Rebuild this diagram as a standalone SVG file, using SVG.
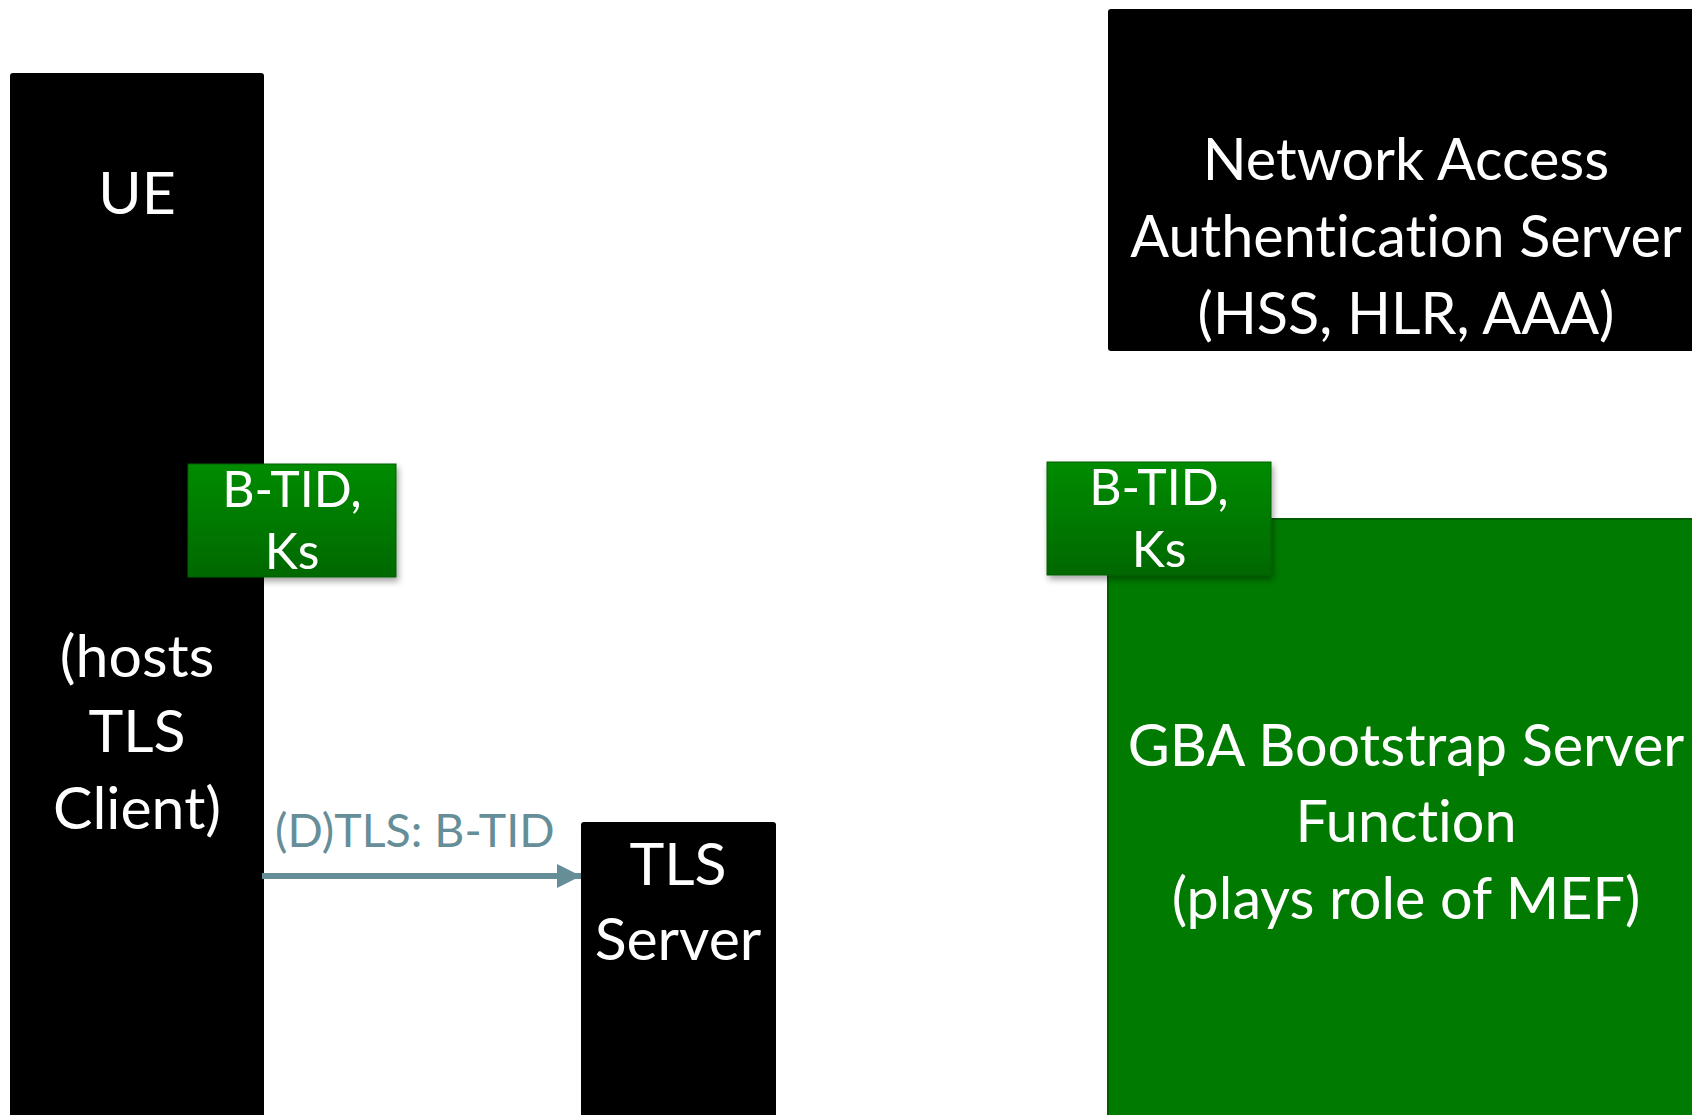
<svg xmlns="http://www.w3.org/2000/svg" width="1692" height="1115" viewBox="0 0 1692 1115">
<defs>
<linearGradient id="gk" x1="0" y1="0" x2="0" y2="1">
<stop offset="0" stop-color="#008c00"/>
<stop offset="1" stop-color="#006800"/>
</linearGradient>
<filter id="sh" x="-10%" y="-10%" width="130%" height="140%">
<feDropShadow dx="2" dy="4" stdDeviation="3" flood-color="#000" flood-opacity="0.35"/>
</filter>
<marker id="ah" viewBox="0 0 10 10" refX="10" refY="5" markerWidth="4" markerHeight="4" orient="auto" markerUnits="strokeWidth">
<path d="M0,0 L10,5 L0,10 z" fill="#668e99"/>
</marker>
</defs>
<style>
.t{font-family:Lato,"Open Sans","Liberation Sans",sans-serif;fill:#fff;text-anchor:middle;font-variant-ligatures:none}
.big{font-size:59px}
.wide{font-size:57.5px}
.sm{font-size:50px}
.lbl{font-family:Lato,"Open Sans","Liberation Sans",sans-serif;fill:#668e99;font-size:46.5px}
.blk{fill:#000}
.key{fill:url(#gk);stroke:#006000;stroke-width:1;filter:url(#sh)}
</style>
<rect width="1692" height="1115" fill="#fff"/>
<g id="ue">
<rect class="blk" x="10" y="73" width="254" height="1060" rx="3"/>
<text class="t big" x="137" y="214">UE</text>
<text class="t big" x="137" y="677">(hosts</text>
<text class="t big" x="137" y="752">TLS</text>
<text class="t big" x="137" y="829">Client)</text>
</g>
<g id="tls-server">
<rect class="blk" x="581" y="822" width="195" height="320" rx="3"/>
<text class="t big" x="678" y="885">TLS</text>
<text class="t big" x="678" y="960">Server</text>
</g>
<g id="naas">
<rect class="blk" x="1108" y="9" width="600" height="342" rx="3"/>
<text class="t wide" x="1406" y="180">Network Access</text>
<text class="t wide" x="1406" y="257">Authentication Server</text>
<text class="t wide" x="1406" y="334">(HSS, HLR, AAA)</text>
</g>
<g id="bsf">
<rect x="1108" y="519" width="600" height="620" fill="#007a00" stroke="#005e00" stroke-width="2"/>
<text class="t wide" x="1406" y="766">GBA Bootstrap Server</text>
<text class="t wide" x="1406" y="842">Function</text>
<text class="t wide" x="1406" y="919">(plays role of MEF)</text>
</g>
<g id="ue-key">
<rect class="key" x="188" y="464" width="208" height="113"/>
<text class="t sm" x="292" y="507">B-TID,</text>
<text class="t sm" x="292" y="569">Ks</text>
</g>
<g id="bsf-key">
<rect class="key" x="1047" y="462" width="224" height="113"/>
<text class="t sm" x="1159" y="505">B-TID,</text>
<text class="t sm" x="1159" y="567">Ks</text>
</g>
<g id="connectors">
<line x1="262" y1="876" x2="581" y2="876" stroke="#668e99" stroke-width="6" marker-end="url(#ah)"/>
<text class="lbl" x="275" y="847">(D)TLS: B-TID</text>
</g>
</svg>
